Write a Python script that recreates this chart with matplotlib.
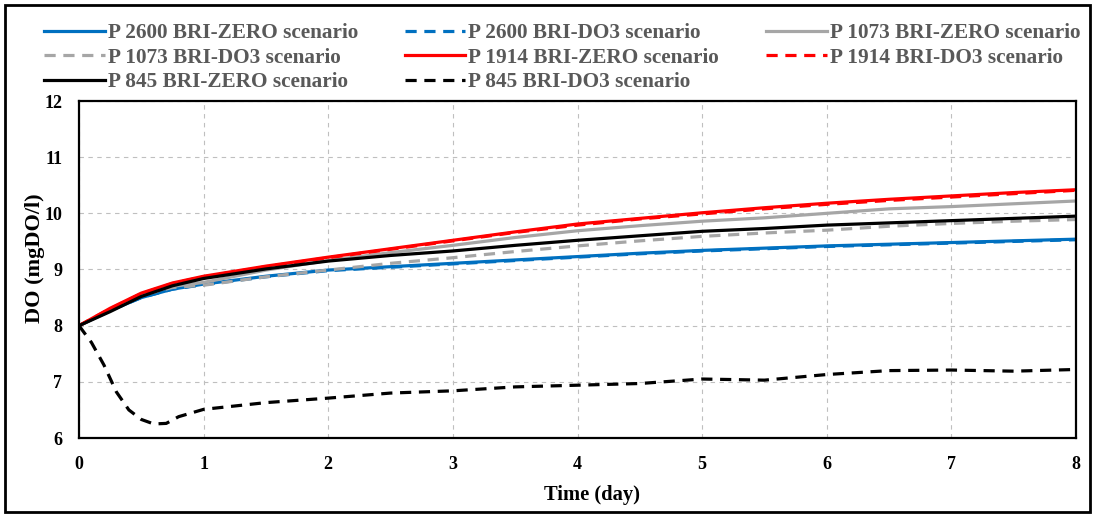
import matplotlib.pyplot as plt
from matplotlib.patches import Rectangle

plt.rcParams['font.family'] = ['Liberation Serif', 'DejaVu Serif']
plt.rcParams['font.weight'] = 'bold'

# time axis (days)
t = [0, 0.25, 0.5, 0.75, 1, 1.5, 2, 2.5, 3, 3.5, 4, 4.5, 5, 5.5, 6, 6.5, 7, 7.5, 8]

p2600_zero = [8.0, 8.27, 8.50, 8.65, 8.74, 8.88, 8.99, 9.05, 9.11, 9.17, 9.23, 9.29, 9.34, 9.38, 9.42, 9.45, 9.48, 9.51, 9.54]
p2600_do3 = [8.0, 8.27, 8.50, 8.65, 8.73, 8.87, 8.98, 9.04, 9.10, 9.16, 9.22, 9.28, 9.33, 9.37, 9.41, 9.44, 9.47, 9.50, 9.53]
p1073_zero = [8.0, 8.27, 8.54, 8.70, 8.77, 8.99, 9.16, 9.30, 9.43, 9.57, 9.69, 9.78, 9.86, 9.92, 10.00, 10.08, 10.12, 10.17, 10.22]
p1073_do3 = [8.0, 8.27, 8.54, 8.68, 8.72, 8.87, 8.99, 9.11, 9.21, 9.32, 9.42, 9.51, 9.59, 9.65, 9.70, 9.77, 9.82, 9.86, 9.89]
p1914_zero = [8.0, 8.31, 8.58, 8.76, 8.88, 9.06, 9.22, 9.37, 9.52, 9.67, 9.81, 9.91, 10.01, 10.10, 10.18, 10.25, 10.31, 10.37, 10.42]
p1914_do3 = [8.0, 8.30, 8.57, 8.75, 8.87, 9.05, 9.21, 9.36, 9.51, 9.66, 9.79, 9.90, 9.99, 10.08, 10.16, 10.23, 10.29, 10.35, 10.41]
p845_zero = [8.0, 8.25, 8.52, 8.71, 8.84, 9.01, 9.15, 9.25, 9.33, 9.43, 9.52, 9.60, 9.68, 9.73, 9.79, 9.83, 9.87, 9.91, 9.95]

t2 = [0, 0.1, 0.2, 0.3, 0.4, 0.5, 0.6, 0.7, 0.8, 1.0, 1.5, 2.0, 2.5, 3.0, 3.5, 4.0, 4.5, 5.0, 5.5, 6.0, 6.5, 7.0, 7.5, 8.0]
p845_do3 = [8.0, 7.7, 7.3, 6.82, 6.5, 6.33, 6.25, 6.26, 6.38, 6.51, 6.63, 6.71, 6.80, 6.84, 6.91, 6.94, 6.97, 7.05, 7.03, 7.13, 7.20, 7.21, 7.19, 7.22]

blue = '#0070C0'
gray = '#A6A6A6'
red = '#FF0000'
dash = (0, (3.5, 2.4))

fig = plt.figure(figsize=(10.94, 5.16), dpi=100)
ax = fig.add_axes([79/1094, 78/516, 997/1094, 337/516])

lw = 2.3
h = []
h += ax.plot(t, p2600_zero, color=blue, lw=lw, label='P 2600 BRI-ZERO scenario')
h += ax.plot(t, p2600_do3, color=blue, lw=lw, ls=dash, label='P 2600 BRI-DO3 scenario')
h += ax.plot(t, p1073_zero, color=gray, lw=lw, label='P 1073 BRI-ZERO scenario')
h += ax.plot(t, p1073_do3, color=gray, lw=lw, ls=dash, label='P 1073 BRI-DO3 scenario')
h += ax.plot(t, p1914_zero, color=red, lw=lw, label='P 1914 BRI-ZERO scenario')
h += ax.plot(t, p1914_do3, color=red, lw=lw, ls=dash, label='P 1914 BRI-DO3 scenario')
h += ax.plot(t, p845_zero, color='black', lw=lw, label='P 845 BRI-ZERO scenario')
h += ax.plot(t2, p845_do3, color='black', lw=lw, ls=dash, label='P 845 BRI-DO3 scenario')

ax.set_xlim(0, 8)
ax.set_ylim(6, 12)
ax.set_xticks(range(0, 9))
ax.set_yticks(range(6, 13))
ax.grid(True, color='#BFBFBF', ls=(0, (4, 4)), lw=0.8)
ax.set_axisbelow(True)
for s in ax.spines.values():
    s.set_linewidth(1.6)
ax.tick_params(length=0, labelsize=13)
ax.tick_params(axis='x', pad=13)
ax.tick_params(axis='y', pad=12)
ax.set_xlabel('Time (day)', fontsize=14.8, fontweight='bold')
ax.xaxis.set_label_coords((592 - 79) / 997, -0.14)
ax.set_ylabel('DO (mgDO/l)', fontsize=16, fontweight='bold')
ax.yaxis.set_label_coords(-0.034, (438 - 258) / 337)

# reorder so the legend reads row by row
order = [0, 3, 6, 1, 4, 7, 2, 5]
leg = fig.legend([h[i] for i in order], [h[i].get_label() for i in order],
                 ncol=3, loc='upper left', bbox_to_anchor=(44/1094, 1 - 23.5/516),
                 frameon=False, fontsize=15.3, handlelength=2.85, handletextpad=0.15,
                 labelspacing=0.2, columnspacing=2.2, borderpad=0, borderaxespad=0)
for txt in leg.get_texts():
    txt.set_color('#595959')
    txt.set_fontweight('bold')

fig.patches.append(Rectangle((5/1094, 4/516), 1085/1094, 507/516, transform=fig.transFigure,
                             fill=False, lw=2, ec='black'))

fig.savefig('out.png', dpi=100)
